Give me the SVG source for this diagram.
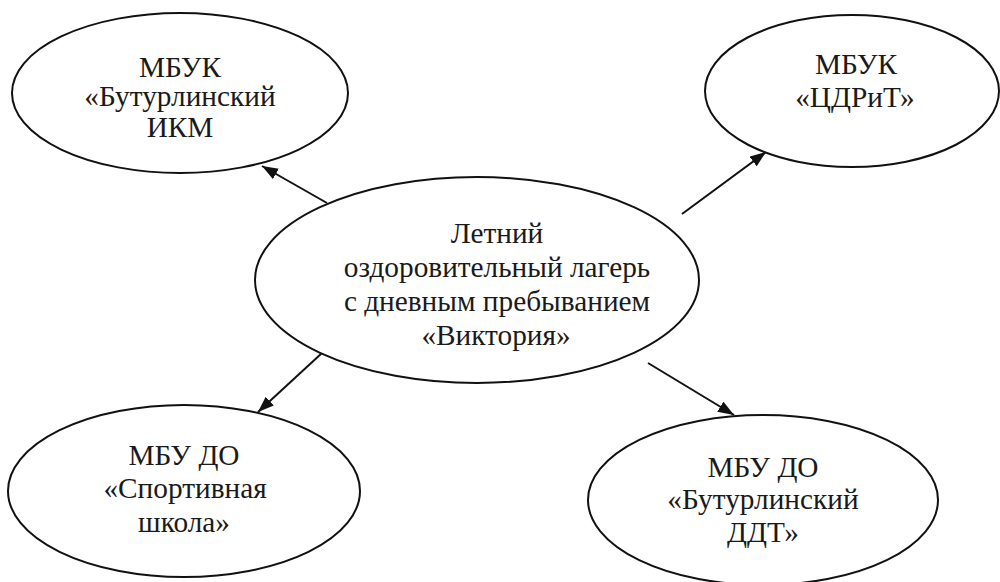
<svg xmlns="http://www.w3.org/2000/svg" width="1000" height="582" viewBox="0 0 1000 582">
<style>
.n ellipse{fill:#fff;stroke:#111;stroke-width:2}
.c line{stroke:#111;stroke-width:2}
</style>
<defs>
<marker id="ah" viewBox="0 0 16 12" refX="16" refY="6" markerWidth="16" markerHeight="12" markerUnits="userSpaceOnUse" orient="auto">
<path d="M0,0 L16,6 L0,12 z" fill="#111"/>
</marker>
</defs>
<rect width="1000" height="582" fill="#fff"/>
<g class="c">
<line x1="327" y1="203" x2="262" y2="166" marker-end="url(#ah)"/>
<line x1="682" y1="214" x2="766" y2="152" marker-end="url(#ah)"/>
<line x1="322" y1="353" x2="258" y2="412" marker-end="url(#ah)"/>
<line x1="648" y1="363" x2="734" y2="415" marker-end="url(#ah)"/>
</g>
<g id="center" class="n">
<ellipse cx="477" cy="280" rx="222" ry="103"/>
<text x="497" y="243" font-family="Liberation Serif" font-size="29.3" fill="#1a1a1a" text-anchor="middle">Летний</text>
<text x="497" y="277" font-family="Liberation Serif" font-size="29.3" fill="#1a1a1a" text-anchor="middle">оздоровительный лагерь</text>
<text x="497" y="311" font-family="Liberation Serif" font-size="29.3" fill="#1a1a1a" text-anchor="middle">с дневным пребыванием</text>
<text x="496" y="345" font-family="Liberation Serif" font-size="29.3" fill="#1a1a1a" text-anchor="middle">«Виктория»</text>
</g>
<g id="ikm" class="n">
<ellipse cx="180" cy="93" rx="168" ry="80"/>
<text x="180" y="77" font-family="Liberation Serif" font-size="29.3" fill="#1a1a1a" text-anchor="middle">МБУК</text>
<text x="180" y="106" font-family="Liberation Serif" font-size="29.3" fill="#1a1a1a" text-anchor="middle">«Бутурлинский</text>
<text x="180" y="137" font-family="Liberation Serif" font-size="29.3" fill="#1a1a1a" text-anchor="middle">ИКМ</text>
</g>
<g id="cdrit" class="n">
<ellipse cx="852" cy="91" rx="147" ry="76"/>
<text x="856" y="74" font-family="Liberation Serif" font-size="29.3" fill="#1a1a1a" text-anchor="middle">МБУК</text>
<text x="855" y="107" font-family="Liberation Serif" font-size="29.3" fill="#1a1a1a" text-anchor="middle">«ЦДРиТ»</text>
</g>
<g id="sport" class="n">
<ellipse cx="184" cy="491" rx="176" ry="86"/>
<text x="184" y="465" font-family="Liberation Serif" font-size="29.3" fill="#1a1a1a" text-anchor="middle">МБУ ДО</text>
<text x="185" y="498" font-family="Liberation Serif" font-size="29.3" fill="#1a1a1a" text-anchor="middle">«Спортивная</text>
<text x="184" y="532" font-family="Liberation Serif" font-size="29.3" fill="#1a1a1a" text-anchor="middle">школа»</text>
</g>
<g id="ddt" class="n">
<ellipse cx="763" cy="500" rx="175" ry="85"/>
<text x="763" y="477" font-family="Liberation Serif" font-size="29.3" fill="#1a1a1a" text-anchor="middle">МБУ ДО</text>
<text x="763" y="509" font-family="Liberation Serif" font-size="29.3" fill="#1a1a1a" text-anchor="middle">«Бутурлинский</text>
<text x="763" y="542" font-family="Liberation Serif" font-size="29.3" fill="#1a1a1a" text-anchor="middle">ДДТ»</text>
</g>
</svg>
